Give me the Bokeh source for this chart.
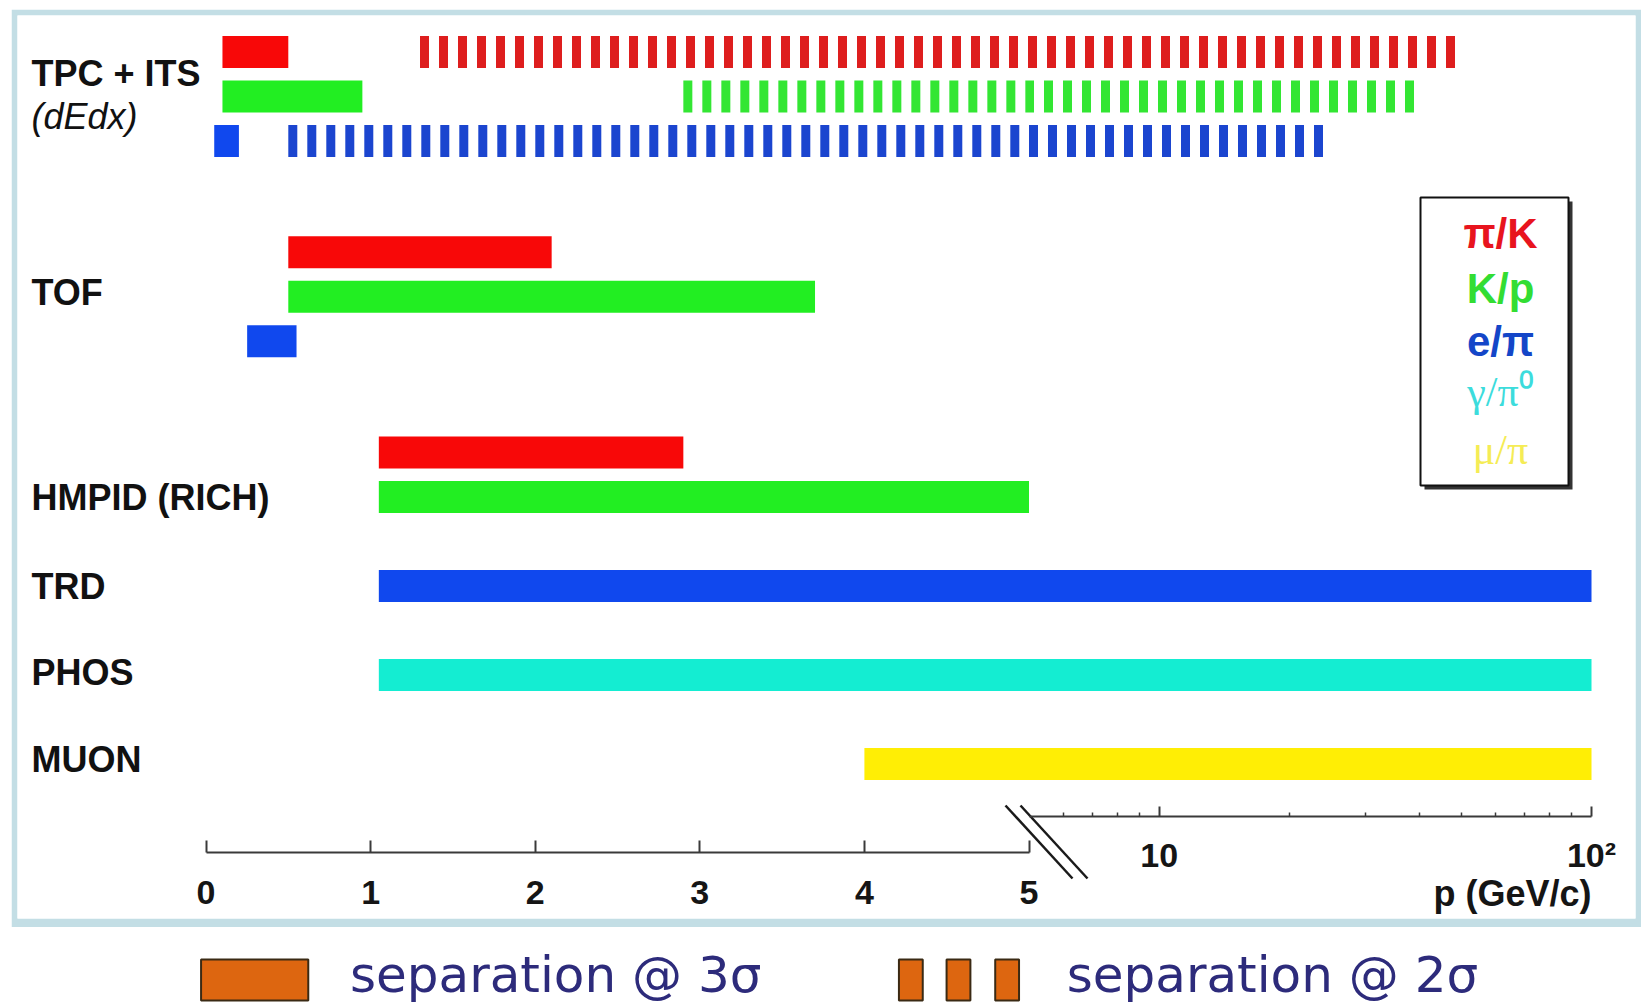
import math
from bokeh.plotting import figure
from bokeh.models import (Range1d, LogScale, LinearAxis, LogAxis, FixedTicker,
                          CustomJSTickFormatter, Label, ColumnDataSource)
from bokeh.layouts import column
from bokeh.embed import file_html
from bokeh.resources import INLINE
from bokeh.core.properties import value

# ------------------------------------------------------------------ data
detectors = ["TPC + ITS", "TOF", "HMPID (RICH)", "TRD", "PHOS", "MUON"]
detector_note = "(dEdx)"
species = ["π/K", "K/p", "e/π", "γ/π⁰", "μ/π"]

# separation @ 3 sigma (solid bars), momentum ranges in GeV/c
sep3_detector = ["TPC + ITS", "TPC + ITS", "TPC + ITS",
                 "TOF", "TOF", "TOF",
                 "HMPID (RICH)", "HMPID (RICH)",
                 "TRD", "PHOS", "MUON"]
sep3_species = ["π/K", "K/p", "e/π",
                "π/K", "K/p", "e/π",
                "π/K", "K/p",
                "e/π", "γ/π⁰", "μ/π"]
sep3_pmin = [0.1, 0.1, 0.05, 0.5, 0.5, 0.25, 1.05, 1.05, 1.05, 1.05, 4.0]
sep3_pmax = [0.5, 0.95, 0.2, 2.1, 3.7, 0.55, 2.9, 5.0, 100.0, 100.0, 100.0]

# separation @ 2 sigma (dashed bars)
sep2_detector = ["TPC + ITS", "TPC + ITS", "TPC + ITS"]
sep2_species = ["π/K", "K/p", "e/π"]
sep2_pmin = [1.3, 2.9, 0.5]
sep2_pmax = [50.0, 40.0, 24.0]

lin_ticks = [0, 1, 2, 3, 4, 5]
log_ticks = [10, 100]
log_minor_ticks = [6, 7, 8, 9, 20, 30, 40, 50, 60, 70, 80, 90]
x_label = "p (GeV/c)"
legend_texts = ["separation @ 3σ", "separation @ 2σ"]
p_break = 5.0
p_top = 100.0

# ------------------------------------------------------------------ style
FONT = "Liberation Sans"
BORDER = "#C3DEE5"
solid_color = {"π/K": "#F80808", "K/p": "#22EE22", "e/π": "#1048EE",
               "γ/π⁰": "#14EDD2", "μ/π": "#FFEE05"}
dash_color = {"π/K": "#DE1E1E", "K/p": "#33E633", "e/π": "#1B45CF",
              "γ/π⁰": "#14EDD2", "μ/π": "#FFEE05"}
legend_color = {"π/K": "#E8141E", "K/p": "#33DD33", "e/π": "#1446C8",
                "γ/π⁰": "#3CDCDC", "μ/π": "#F5EC55"}
legend_font = {"π/K": ("Liberation Sans", "bold"), "K/p": ("Liberation Sans", "bold"),
               "e/π": ("Liberation Sans", "bold"), "γ/π⁰": ("Liberation Serif", "normal"),
               "μ/π": ("Liberation Serif", "normal")}

FIG_X0, FIG_Y0 = 11, 9          # page position of the framed chart
FIG_W, FIG_H, LEG_W, LEG_H = 1630, 918, 1641, 77
BL, BR, BT, BB = 6, 6, 6, 9
frame_left, frame_right = FIG_X0 + BL, FIG_X0 + FIG_W - BR
frame_top, frame_bottom = FIG_Y0 + BT, FIG_Y0 + FIG_H - BB
LEG_Y0 = FIG_Y0 + FIG_H

# axis calibration (page pixels)
X0_PX, XB_PX, XT_PX = 205.5, 1028.5, 1591.0
lin_k = (XB_PX - X0_PX) / p_break
log_k = (XT_PX - XB_PX) / (math.log10(p_top) - math.log10(p_break))
ROW0_PX, ROW_PX = 51.5, 44.5


def px_x(px):
    return (px - X0_PX) / lin_k


def px_y(py):
    return (py - ROW0_PX) / ROW_PX


def px_logx(px):
    return 10 ** (math.log10(p_break) + (px - XB_PX) / log_k)


detector_row = {"TPC + ITS": 0.0, "TOF": 4.5, "HMPID (RICH)": 9.0,
                "TRD": 12.0, "PHOS": 14.0, "MUON": 16.0}
label_offset = {"TPC + ITS": 0.48, "TOF": 0.9, "HMPID (RICH)": 1.0,
                "TRD": 0.0, "PHOS": -0.05, "MUON": -0.1}
note_offset = 1.45
BAR_PX = 32
BAR_H = BAR_PX / ROW_PX
DASH_ON, DASH_OFF = 9, 10


def slot(det, sp):
    order = [s for d, s in zip(sep3_detector, sep3_species) if d == det]
    return detector_row[det] + order.index(sp)


p = figure(width=FIG_W, height=FIG_H,
           x_range=Range1d(px_x(frame_left), px_x(frame_right)),
           y_range=Range1d(px_y(frame_bottom), px_y(frame_top)),
           x_axis_type=None, y_axis_type=None, toolbar_location=None,
           output_backend="svg",
           min_border_left=BL, min_border_right=BR,
           min_border_top=BT, min_border_bottom=BB)
p.margin = (FIG_Y0, 0, 0, FIG_X0)
p.extra_x_ranges = {"log": Range1d(px_logx(frame_left), px_logx(frame_right))}
p.extra_x_scales = {"log": LogScale()}
p.border_fill_color = BORDER
p.background_fill_color = "white"
p.outline_line_color = None

# solid bars (3 sigma)
lin = dict(y=[], left=[], right=[], color=[])
lg = dict(y=[], left=[], right=[], color=[])
for d, s, lo, hi in zip(sep3_detector, sep3_species, sep3_pmin, sep3_pmax):
    y = slot(d, s)
    if lo < p_break:
        lin["y"].append(y); lin["left"].append(lo)
        lin["right"].append(min(hi, p_break)); lin["color"].append(solid_color[s])
    if hi > p_break:
        lg["y"].append(y); lg["left"].append(max(lo, p_break))
        lg["right"].append(hi); lg["color"].append(solid_color[s])
p.hbar(y="y", left="left", right="right", height=BAR_H, source=ColumnDataSource(lin),
       fill_color="color", line_color=None)
p.hbar(y="y", left="left", right="right", height=BAR_H, source=ColumnDataSource(lg),
       fill_color="color", line_color=None, x_range_name="log")

# dashed bars (2 sigma)
dash = f"{DASH_ON} {DASH_OFF}"
period = DASH_ON + DASH_OFF
for d, s, lo, hi in zip(sep2_detector, sep2_species, sep2_pmin, sep2_pmax):
    y = slot(d, s)
    lin_len = 0
    if lo < p_break:
        p.segment(x0=[lo], y0=[y], x1=[min(hi, p_break)], y1=[y],
                  line_color=dash_color[s], line_width=BAR_PX, line_dash=dash,
                  line_cap="butt")
        lin_len = (min(hi, p_break) - lo) * lin_k
    if hi > p_break:
        p.segment(x0=[max(lo, p_break)], y0=[y], x1=[hi], y1=[y],
                  line_color=dash_color[s], line_width=BAR_PX, line_dash=dash,
                  line_dash_offset=int(round(lin_len)) % period,
                  line_cap="butt", x_range_name="log")

# detector labels
lab_text, lab_y, lab_style = [], [], []
for d in detectors:
    lab_text.append(d)
    lab_y.append(detector_row[d] + label_offset[d])
    lab_style.append("bold")
    if d == "TPC + ITS":
        lab_text.append(detector_note)
        lab_y.append(detector_row[d] + note_offset)
        lab_style.append("italic")
p.text(x=[px_x(31)] * len(lab_text), y=lab_y, text=lab_text,
       text_font=value(FONT), text_font_style=lab_style, text_font_size="36px",
       text_color="#111111", text_align="left", text_baseline="middle")

# species legend box
bx0, by0, bx1, by1 = 1420, 197, 1568, 485
p.quad(left=[px_x(bx0 + 4)], right=[px_x(bx1 + 4)], top=[px_y(by0 + 4)],
       bottom=[px_y(by1 + 4)], fill_color="#333333", line_color=None)
p.quad(left=[px_x(bx0)], right=[px_x(bx1)], top=[px_y(by0)], bottom=[px_y(by1)],
       fill_color="white", line_color="#111111", line_width=2)
leg_y_px = [233, 288, 341, 391, 449]
p.text(x=[px_x(1500)] * len(species), y=[px_y(v) for v in leg_y_px], text=species,
       text_color=[legend_color[s] for s in species],
       text_font=[legend_font[s][0] for s in species],
       text_font_style=[legend_font[s][1] for s in species],
       text_font_size="42px", text_align="center", text_baseline="middle")

# axes
axis_kw = dict(axis_line_color="#3A3A3A", axis_line_width=2,
               major_tick_line_color="#3A3A3A", major_tick_line_width=2,
               major_tick_out=0, minor_tick_out=0,
               major_label_text_font=FONT, major_label_text_font_style="bold",
               major_label_text_font_size="34px", major_label_text_color="#151515")
lin_axis = LinearAxis(ticker=FixedTicker(ticks=lin_ticks, minor_ticks=[]),
                      bounds=(0, p_break), fixed_location=px_y(852),
                      major_tick_in=12, major_label_standoff=28, **axis_kw)
p.add_layout(lin_axis, "below")
log_axis = LogAxis(x_range_name="log",
                   ticker=FixedTicker(ticks=log_ticks, minor_ticks=log_minor_ticks),
                   formatter=CustomJSTickFormatter(code="return tick >= 100 ? '10\u00b2' : tick.toFixed(0);"),
                   bounds=(p_break, p_top), fixed_location=px_y(816),
                   major_tick_in=10, minor_tick_in=4, minor_tick_line_color="#3A3A3A",
                   minor_tick_line_width=1.5, major_label_standoff=19, **axis_kw)
p.add_layout(log_axis, "below")
p.add_layout(Label(x=p_top, y=px_y(893), x_range_name="log", text=x_label,
                   text_font=FONT, text_font_style="bold", text_font_size="36px",
                   text_color="#151515", text_align="right", text_baseline="middle"))

# axis break marks
bx = px_x(1005) - p_break
dx = px_x(1072) - px_x(1005)
gap = px_x(1020) - px_x(1005)
p.segment(x0=[p_break + bx, p_break + bx + gap], y0=[px_y(805)] * 2,
          x1=[p_break + bx + dx, p_break + bx + dx + gap], y1=[px_y(878)] * 2,
          line_color="#1A1A1A", line_width=2.5)

# ------------------------------------------------------------------ bottom legend
leg = figure(width=LEG_W, height=LEG_H, x_range=Range1d(0, LEG_W),
             y_range=Range1d(LEG_Y0 + LEG_H, LEG_Y0), x_axis_type=None, y_axis_type=None,
             toolbar_location=None, output_backend="svg",
             min_border_left=0, min_border_right=0, min_border_top=0, min_border_bottom=0)
leg.outline_line_color = None
leg.background_fill_color = "white"
leg.border_fill_color = "white"
ORANGE = "#DD6610"
sw_top, sw_bot = 959, 1000
leg.quad(left=[196], right=[304], top=[sw_top], bottom=[sw_bot],
         fill_color=ORANGE, line_color="#3A2A14", line_width=2)
leg.quad(left=[899, 947, 996], right=[923, 971, 1020],
         top=[sw_top] * 3, bottom=[sw_bot] * 3,
         fill_color=ORANGE, line_color="#3A2A14", line_width=2)
leg.text(x=[346, 1068], y=[974] * 2, text=legend_texts,
         text_font=value("DejaVu Sans"), text_font_size="50px", text_color="#2D2B7B",
         text_align="left", text_baseline="middle")

layout = column(p, leg, spacing=0)
open("out.html", "w").write(file_html(layout, INLINE))
